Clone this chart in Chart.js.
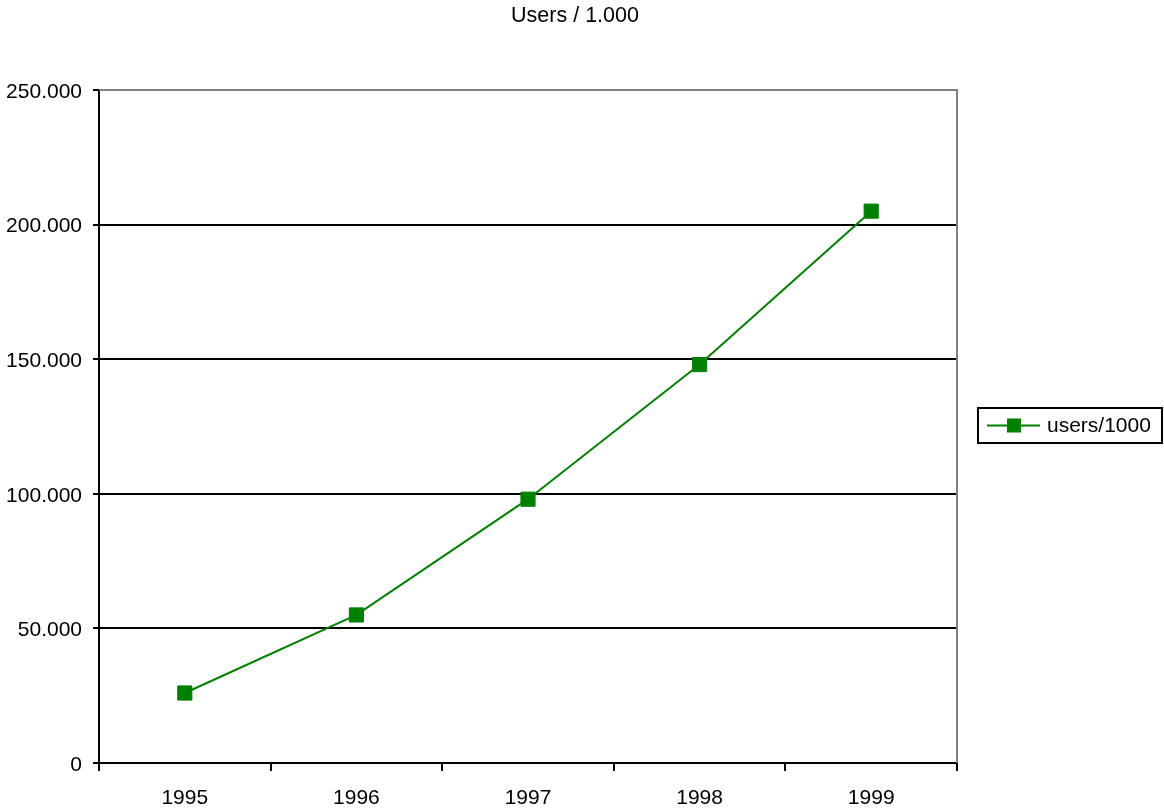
<!DOCTYPE html>
<html lang="en">
<head>
    <meta charset="UTF-8">
    <title>Users / 1.000</title>
    <script src="https://cdn.jsdelivr.net/npm/chart.js"></script>
    <style>
        body { margin: 0; background: white; }
        canvas { display: block; }
    </style>
</head>
<body>
    <canvas id="myChart" width="1164" height="810"></canvas>
    <script>
        // datos
        const years = ['1995', '1996', '1997', '1998', '1999'];
        const users = [26000, 55000, 98000, 148000, 205000];
        const seriesName = 'users/1000';
        const chartTitle = 'Users / 1.000';
        const yTicks = [0, 50000, 100000, 150000, 200000, 250000];

        const green = '#008000';
        const fontFamily = '"Liberation Sans", Arial, sans-serif';

        function formatNum(v) {
            return String(v).replace(/\B(?=(\d{3})+(?!\d))/g, '.');
        }

        // titulo, borde gris y leyenda con recuadro
        const extras = {
            id: 'extras',
            afterDraw(chart) {
                const ctx = chart.ctx;
                const a = chart.chartArea;
                ctx.save();
                // borde superior y derecho
                ctx.strokeStyle = '#808080';
                ctx.lineWidth = 2;
                ctx.beginPath();
                ctx.moveTo(a.left, a.top);
                ctx.lineTo(a.right, a.top);
                ctx.lineTo(a.right, a.bottom);
                ctx.stroke();

                // titulo
                ctx.fillStyle = '#000';
                ctx.font = '21.5px ' + fontFamily;
                ctx.textAlign = 'center';
                ctx.textBaseline = 'middle';
                ctx.fillText(chartTitle, 575, 16);

                // leyenda
                const lx = 978, ly = 408, lw = 184, lh = 35;
                ctx.lineWidth = 2;
                ctx.strokeStyle = '#000';
                ctx.strokeRect(lx, ly, lw, lh);
                const cy = ly + lh / 2;
                ctx.strokeStyle = green;
                ctx.beginPath();
                ctx.moveTo(lx + 9, cy);
                ctx.lineTo(lx + 62, cy);
                ctx.stroke();
                ctx.fillStyle = green;
                ctx.fillRect(lx + 29, cy - 7, 14, 14);
                ctx.fillStyle = '#000';
                ctx.font = '21px ' + fontFamily;
                ctx.textAlign = 'left';
                ctx.fillText(chart.data.datasets[0].label, lx + 69, cy + 1);
                ctx.restore();
            }
        };

        const config = {
            type: 'line',
            data: {
                labels: years,
                datasets: [{
                    label: seriesName,
                    data: users,
                    borderColor: green,
                    backgroundColor: green,
                    borderWidth: 2,
                    pointStyle: 'rect',
                    pointRadius: 10,
                    pointBorderWidth: 1,
                    pointBorderColor: green,
                    pointBackgroundColor: green,
                    tension: 0
                }]
            },
            options: {
                responsive: false,
                animation: false,
                devicePixelRatio: 1,
                layout: { padding: { left: 5, right: 207, top: 90, bottom: 0 } },
                plugins: {
                    legend: { display: false },
                    title: { display: false },
                    tooltip: { enabled: false }
                },
                scales: {
                    x: {
                        offset: true,
                        grid: {
                            offset: true,
                            drawOnChartArea: false,
                            drawTicks: true,
                            tickLength: 8,
                            color: '#000',
                            lineWidth: 2
                        },
                        border: { color: '#000', width: 2 },
                        ticks: {
                            color: '#000',
                            padding: 15,
                            maxRotation: 0,
                            font: { family: fontFamily, size: 21 }
                        },
                        afterFit(scale) { scale.height = 47; }
                    },
                    y: {
                        min: 0,
                        max: 250000,
                        afterBuildTicks(scale) {
                            scale.ticks = yTicks.map(v => ({ value: v }));
                        },
                        grid: {
                            color: '#000',
                            lineWidth: 2,
                            tickLength: 6
                        },
                        border: { color: '#000', width: 2 },
                        ticks: {
                            color: '#000',
                            padding: 11,
                            labelOffset: 2,
                            font: { family: fontFamily, size: 21 },
                            callback: v => formatNum(v)
                        },
                        afterFit(scale) { scale.width = 94; }
                    }
                }
            },
            plugins: [extras]
        };

        new Chart(document.getElementById('myChart'), config);
    </script>
</body>
</html>
